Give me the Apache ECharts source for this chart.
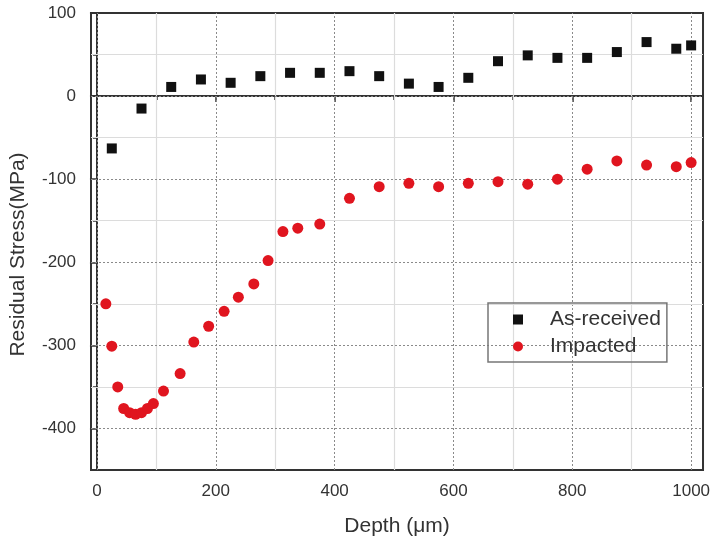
<!DOCTYPE html>
<html>
<head>
<meta charset="utf-8">
<title>Residual Stress</title>
<script src="https://cdn.jsdelivr.net/npm/echarts@6/dist/echarts.min.js"></script>
<style>
  html, body { margin: 0; padding: 0; background: #fff; }
  #chart { width: 713px; height: 543px; }
</style>
</head>
<body>
<div id="chart"></div>
<script>
// as-received (black squares)
var recvDepth = [25, 75, 125, 175, 225, 275, 325, 375, 425, 475, 525, 575, 625, 675, 725, 775, 825, 875, 925, 975, 1000];
var recvStress = [-63, -15, 11, 20, 16, 24, 28, 28, 30, 24, 15, 11, 22, 42, 49, 46, 46, 53, 65, 57, 61];

// impacted (red circles)
var impDepth = [15, 25, 35, 45, 55, 65, 75, 85, 95, 112, 140, 163, 188, 214, 238, 264, 288, 313, 338, 375,
                425, 475, 525, 575, 625, 675, 725, 775, 825, 875, 925, 975, 1000];
var impStress = [-250, -301, -350, -376, -381, -383, -381, -376, -370, -355, -334, -296, -277, -259, -242, -226, -198, -163, -159, -154,
                 -123, -109, -105, -109, -105, -103, -106, -100, -88, -78, -83, -85, -80];

var xMajor = [0, 200, 400, 600, 800, 1000];
var xMinor = [100, 300, 500, 700, 900];
var yMajor = [-400, -300, -200, -100, 0, 100];
var yMinor = [-350, -250, -150, -50, 50];

function pairs(xs, ys) {
    var out = [];
    for (var i = 0; i < xs.length; i++) out.push([xs[i], ys[i]]);
    return out;
}

// grid lines drawn as mark lines: dotted on major, light solid on minor
var gridLines = [];
xMajor.forEach(function (v) { gridLines.push({ xAxis: v, lineStyle: { color: '#8a8a8a', type: [2, 2], width: 1 } }); });
xMinor.forEach(function (v) { gridLines.push({ xAxis: v, lineStyle: { color: '#dcdcdc', type: 'solid', width: 1.2 } }); });
yMajor.forEach(function (v) { if (v < 100) gridLines.push({ yAxis: v, lineStyle: { color: '#8a8a8a', type: [2, 2], width: 1 } }); });
yMinor.forEach(function (v) { gridLines.push({ yAxis: v, lineStyle: { color: '#dcdcdc', type: 'solid', width: 1.2 } }); });

var font = 'Liberation Sans, Arial, sans-serif';
var plain = function (v) { return String(v); };
var chart = echarts.init(document.getElementById('chart'));

chart.setOption({
    animation: false,
    grid: {
        left: 89, right: 7, top: 13, bottom: 73,
        show: true, borderColor: '#333', borderWidth: 2, backgroundColor: 'transparent'
    },
    legend: {
        data: ['As-received', 'Impacted'],
        orient: 'vertical',
        left: 488, top: 303,
        padding: [6, 6, 5, 25],
        itemWidth: 10, itemHeight: 10, itemGap: 6,
        borderColor: '#777', borderWidth: 1.5,
        textStyle: { fontFamily: font, fontSize: 21, color: '#333', padding: [0, 0, 0, 22] }
    },
    xAxis: [{
        type: 'value', min: -10, max: 1020,
        position: 'bottom',
        name: 'Depth (\u03bcm)', nameLocation: 'middle', nameGap: 46,
        nameTextStyle: { fontFamily: font, fontSize: 21, color: '#333' },
        axisLine: { show: true, lineStyle: { color: '#333', width: 2 } },
        axisTick: { show: true, customValues: xMajor, length: 6, lineStyle: { color: '#333', width: 1.5 } },
        axisLabel: { customValues: xMajor, formatter: plain, fontFamily: font, fontSize: 17, color: '#333', margin: 13 },
        splitLine: { show: false }
    }, {
        type: 'value', min: -10, max: 1020,
        position: 'bottom',
        axisLine: { show: false },
        axisTick: { show: true, customValues: xMinor, length: 4, lineStyle: { color: '#333', width: 1.5 } },
        axisLabel: { show: false },
        splitLine: { show: false }
    }],
    yAxis: [{
        type: 'value', min: -450, max: 100,
        position: 'left',
        name: 'Residual Stress(MPa)', nameLocation: 'middle', nameRotate: 90, nameGap: 62,
        nameTextStyle: { fontFamily: font, fontSize: 21, color: '#333', padding: [0, 26, 0, 0] },
        axisLine: { show: true, lineStyle: { color: '#333', width: 2 } },
        axisTick: { show: true, customValues: yMajor, length: 7, lineStyle: { color: '#333', width: 1.5 } },
        axisLabel: { customValues: yMajor, formatter: plain, fontFamily: font, fontSize: 17, color: '#333', margin: 15 },
        splitLine: { show: false }
    }, {
        type: 'value', min: -450, max: 100,
        position: 'left',
        axisLine: { show: false },
        axisTick: { show: true, customValues: yMinor, length: 4, lineStyle: { color: '#333', width: 1.5 } },
        axisLabel: { show: false },
        splitLine: { show: false }
    }],
    series: [{
        name: 'As-received',
        type: 'scatter',
        symbol: 'rect',
        symbolSize: 10,
        itemStyle: { color: '#111', opacity: 1 },
        data: pairs(recvDepth, recvStress),
        z: 3,
        markLine: {
            silent: true, symbol: 'none', z: 1,
            label: { show: false },
            emphasis: { disabled: true },
            data: gridLines
        }
    }, {
        name: 'Impacted',
        type: 'scatter',
        symbol: 'circle',
        symbolSize: 11,
        itemStyle: { color: '#e0151f', opacity: 1 },
        data: pairs(impDepth, impStress),
        z: 3
    }]
});
</script>
</body>
</html>
